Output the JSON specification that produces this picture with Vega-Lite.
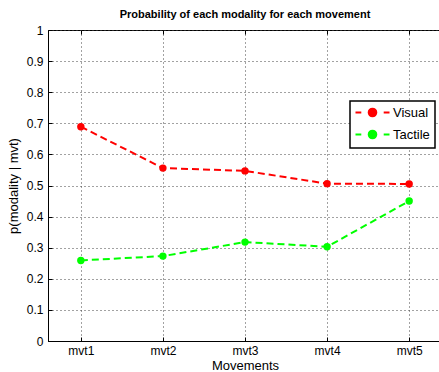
{
  "$schema": "https://vega.github.io/schema/vega-lite/v6.json",
  "autosize": "none",
  "padding": {"left": 48, "top": 30, "right": 0, "bottom": 31},
  "width": 394,
  "height": 311,
  "title": {
    "text": "Probability of each modality for each movement",
    "font": "Liberation Sans",
    "fontSize": 11,
    "fontWeight": "bold",
    "color": "#000",
    "offset": 4,
    "anchor": "middle"
  },
  "data": {
    "values": [
      {"mvt": 1, "modality": "Visual", "p": 0.689},
      {"mvt": 2, "modality": "Visual", "p": 0.556},
      {"mvt": 3, "modality": "Visual", "p": 0.547},
      {"mvt": 4, "modality": "Visual", "p": 0.506},
      {"mvt": 5, "modality": "Visual", "p": 0.505},
      {"mvt": 1, "modality": "Tactile", "p": 0.259},
      {"mvt": 2, "modality": "Tactile", "p": 0.273},
      {"mvt": 3, "modality": "Tactile", "p": 0.318},
      {"mvt": 4, "modality": "Tactile", "p": 0.303},
      {"mvt": 5, "modality": "Tactile", "p": 0.450}
    ]
  },
  "config": {
    "view": {"stroke": "#000", "strokeWidth": 1},
    "axis": {
      "labelFont": "Liberation Sans",
      "labelFontSize": 12,
      "labelColor": "#000",
      "titleFont": "Liberation Sans",
      "titleFontSize": 13,
      "titleFontWeight": "normal",
      "titleColor": "#000",
      "domainColor": "#000",
      "tickColor": "#000",
      "gridColor": "#444",
      "gridDash": [1, 3],
      "gridWidth": 1
    }
  },
  "encoding": {
    "y": {
      "field": "p",
      "type": "quantitative",
      "scale": {"domain": [0, 1], "nice": false},
      "axis": {
        "values": [0, 0.1, 0.2, 0.3, 0.4, 0.5, 0.6, 0.7, 0.8, 0.9, 1],
        "labelExpr": "datum.value == 0 ? '0' : datum.value == 1 ? '1' : format(datum.value, '.1f')",
        "title": "p(modality | mvt)",
        "tickSize": -4,
        "labelPadding": 9,
        "titlePadding": 6,
        "grid": true
      }
    },
    "color": {
      "field": "modality",
      "type": "nominal",
      "scale": {"domain": ["Visual", "Tactile"], "range": ["#ff0000", "#00ff00"]},
      "legend": {
        "title": null,
        "orient": "none",
        "legendX": 302,
        "legendY": 71,
        "padding": 5,
        "rowPadding": 5,
        "fillColor": "#ffffff",
        "strokeColor": "#000000",
        "labelFont": "Liberation Sans",
        "labelFontSize": 13,
        "labelColor": "#000",
        "labelOffset": 14,
        "symbolOffset": 11,
        "symbolType": "M-4.25,0L-2.8,0M2.8,0L4.25,0M0.95,0A0.95,0.95,0,1,1,-0.95,0A0.95,0.95,0,1,1,0.95,0Z",
        "symbolSize": 64,
        "symbolStrokeWidth": 2,
        "encode": {
          "legend": {"update": {"strokeWidth": {"value": 1.5}}},
          "symbols": {
            "update": {
              "fill": {"scale": "color", "field": "value"},
              "stroke": {"scale": "color", "field": "value"},
              "strokeWidth": {"value": 2}
            }
          }
        }
      }
    }
  },
  "layer": [
    {
      "mark": {"type": "line", "strokeDash": [7, 4], "strokeWidth": 2},
      "encoding": {
        "x": {
          "field": "mvt",
          "type": "quantitative",
          "scale": {"domain": [0.6, 5.4], "nice": false, "zero": false},
          "axis": {
            "values": [1, 2, 3, 4, 5],
            "labelExpr": "'mvt' + datum.value",
            "title": "Movements",
            "tickSize": -4,
            "labelPadding": 8,
            "titlePadding": 3,
            "grid": true
          }
        }
      }
    },
    {
      "mark": {"type": "point", "filled": true, "size": 55, "opacity": 1, "shape": "circle"},
      "encoding": {
        "x": {
          "field": "mvt",
          "type": "quantitative",
          "scale": {"domain": [0.6, 5.4], "nice": false, "zero": false},
          "axis": {
            "orient": "top",
            "values": [1, 2, 3, 4, 5],
            "labels": false,
            "title": null,
            "tickSize": -4,
            "grid": false,
            "domain": false
          }
        }
      }
    }
  ],
  "resolve": {"axis": {"x": "independent"}}
}
